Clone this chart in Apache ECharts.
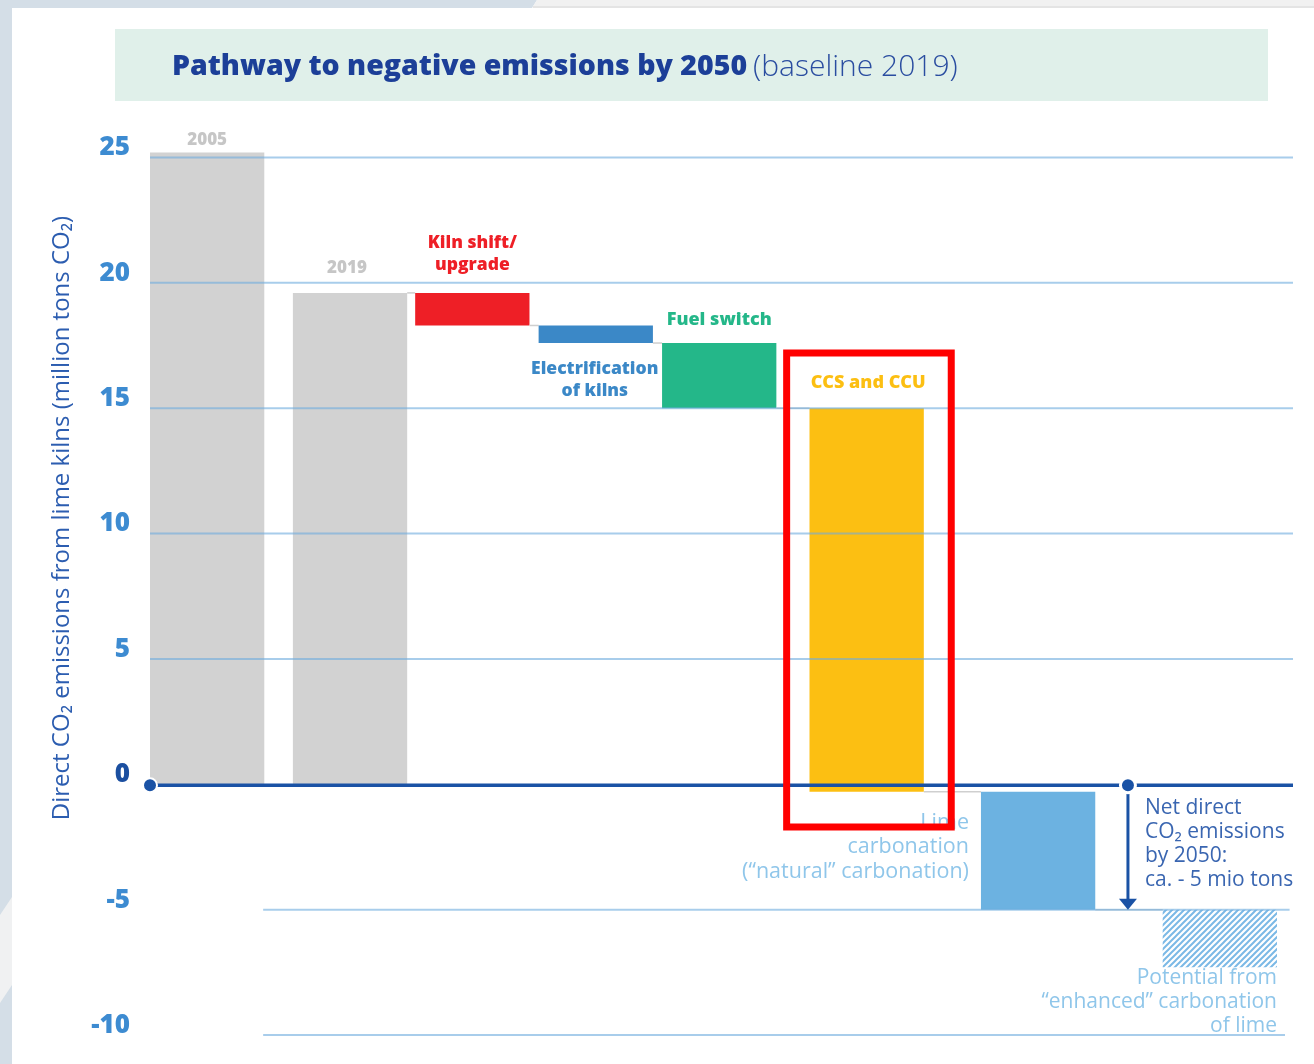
<!DOCTYPE html>
<html><head><meta charset="utf-8">
<script src="https://cdn.jsdelivr.net/npm/echarts@6/dist/echarts.min.js"></script>
<style>html,body{margin:0;padding:0;background:#fff;overflow:hidden}#c{width:1314px;height:1064px;}</style>
</head><body><div id="c"></div>
<script>
// ---------------- DATA ----------------
const categories = ['2005', '2019', 'Kiln shift/\nupgrade', 'Electrification\nof kilns', 'Fuel switch', 'CCS and CCU',
  'Lime\ncarbonation\n(“natural” carbonation)', 'Potential from\n“enhanced” carbonation\nof lime'];
const baselineTotals = [25.2, 19.6];                       // 2005, 2019
const reductionSteps = [-1.3, -0.7, -2.6, -15.3, -4.7, -2.3]; // waterfall steps after 2019
const yTickValues = [-10, -5, 0, 5, 10, 15, 20, 25];
const netEmission2050 = -5;
const titleBold = 'Pathway to negative emissions by 2050';
const titleLight = '(baseline 2019)';
const yAxisTitle = 'Direct CO₂ emissions from lime kilns (million tons CO₂)';
const netText = 'Net direct\nCO₂ emissions\nby 2050:\nca. - 5 mio tons';

// ---------------- LAYOUT / STYLE ----------------
const slotCenters = [0.5, 1.75, 2.82, 3.9, 4.98, 6.27, 7.77, 9.36]; // x-axis units (0..10)
const netArrowX = 8.556;
const highlightBox = {x0: 5.57, x1: 7.01, y0: -1.7, y1: 17.2};
const barColors = ['#d2d2d2', '#d2d2d2', '#ee1f26', '#3b88c7', '#24b789', '#fcbf12', '#6cb2e1', null];
const FONT = "'Open Sans', 'Lato', sans-serif";
const labelLayout = [
  {edge: 'top', dx: 0, dy: -12, align: 'center', color: '#c6c6c6', size: 17, weight: 800, lh: 18},
  {edge: 'top', dx: -3, dy: -25, align: 'center', color: '#c6c6c6', size: 17, weight: 800, lh: 18},
  {edge: 'top', dx: 0, dy: -39, align: 'center', color: '#ee1f26', size: 17.5, weight: 800, lh: 22},
  {edge: 'bottom', dx: -1, dy: 37, align: 'center', color: '#3b88c7', size: 17.5, weight: 800, lh: 22},
  {edge: 'top', dx: 0, dy: -23, align: 'center', color: '#24b789', size: 18, weight: 800, lh: 22},
  {edge: 'top', dx: 1.5, dy: -25, align: 'center', color: '#fcbf12', size: 18, weight: 800, lh: 22},
  {edge: 'leftTop', dx: -12, dy: 55.5, align: 'right', color: '#8fc6ea', size: 21.5, weight: 400, lh: 24.5},
  {edge: 'bottomRight', dx: 0, dy: 35, align: 'right', color: '#8fc6ea', size: 21, weight: 400, lh: 24}
];

// waterfall levels computed from the data
const barFrom = [], barTo = [];
baselineTotals.forEach(v => { barFrom.push(0); barTo.push(v); });
let level = baselineTotals[baselineTotals.length - 1];
reductionSteps.forEach(d => { barFrom.push(level); level = +(level + d).toFixed(2); barTo.push(level); });

// hatch pattern
const hatch = document.createElement('canvas');
hatch.width = 6; hatch.height = 6;
(function () {
  const g = hatch.getContext('2d');
  g.strokeStyle = '#7bb9e6'; g.lineWidth = 2;
  g.beginPath();
  g.moveTo(-1, 7); g.lineTo(7, -1);
  g.moveTo(-1, 1); g.lineTo(1, -1);
  g.moveTo(5, 7); g.lineTo(7, 5);
  g.stroke();
})();

const chart = echarts.init(document.getElementById('c'), null, {renderer: 'canvas'});

function renderBar(params, api) {
  const i = params.dataIndex;
  const xc = api.value(0), a = api.value(1), b = api.value(2);
  const p0 = api.coord([xc - 0.5, Math.max(a, b)]);
  const p1 = api.coord([xc + 0.5, Math.min(a, b)]);
  const children = [];
  children.push({
    type: 'rect',
    shape: {x: p0[0], y: p0[1], width: p1[0] - p0[0], height: p1[1] - p0[1]},
    style: {fill: barColors[i] ? barColors[i] : {image: hatch, repeat: 'repeat'}}
  });
  if (i >= 1 && i < categories.length - 1) {
    const q0 = api.coord([xc + 0.5, b]);
    const q1 = api.coord([slotCenters[i + 1] - 0.5, b]);
    children.push({type: 'line', shape: {x1: q0[0], y1: q0[1], x2: q1[0], y2: q1[1]},
      style: {stroke: '#cfcfcf', lineWidth: 1.5}});
  }
  const L = labelLayout[i];
  let ax, ay;
  if (L.edge === 'top') { ax = (p0[0] + p1[0]) / 2; ay = p0[1]; }
  else if (L.edge === 'bottom') { ax = (p0[0] + p1[0]) / 2; ay = p1[1]; }
  else if (L.edge === 'leftTop') { ax = p0[0]; ay = p0[1]; }
  else { ax = p1[0]; ay = p1[1]; }
  children.push({
    type: 'text', x: ax + L.dx, y: ay + L.dy, z2: 5,
    style: {text: categories[i], fill: L.color, fontSize: L.size, fontWeight: L.weight, fontFamily: FONT,
      align: L.align, verticalAlign: 'middle', lineHeight: L.lh}
  });
  return {type: 'group', children};
}

function renderGrid(params, api) {
  const children = [];
  yTickValues.forEach(v => {
    if (v === 0) return;
    const xs = v > 0 ? [0, 10] : [0.99, v === -5 ? 9.97 : 9.93];
    const a = api.coord([xs[0], v]), b = api.coord([xs[1], v]);
    children.push({type: 'line', shape: {x1: a[0], y1: a[1], x2: b[0], y2: b[1]},
      style: {stroke: 'rgba(110,172,222,0.6)', lineWidth: 2}});
  });
  // zero line
  const z0 = api.coord([0, 0]), z1 = api.coord([10, 0]);
  children.push({type: 'line', shape: {x1: z0[0], y1: z0[1] + 1, x2: z1[0], y2: z1[1] + 1},
    style: {stroke: '#1a52a5', lineWidth: 3.5}});
  // net arrow
  const n0 = api.coord([netArrowX, 0]), n1 = api.coord([netArrowX, netEmission2050]);
  children.push({type: 'line', shape: {x1: n0[0], y1: n0[1], x2: n0[0], y2: n1[1] - 10},
    style: {stroke: '#1a52a5', lineWidth: 3}});
  children.push({type: 'polygon', shape: {points: [[n1[0] - 9, n1[1] - 11], [n1[0] + 9, n1[1] - 11], [n1[0], n1[1]]]},
    style: {fill: '#1a52a5'}});
  children.push({type: 'circle', shape: {cx: z0[0], cy: z0[1] + 1, r: 7}, style: {fill: '#1a52a5', stroke: '#fff', lineWidth: 2}});
  children.push({type: 'circle', shape: {cx: n0[0], cy: n0[1] + 1, r: 7.5}, style: {fill: '#1a52a5', stroke: '#fff', lineWidth: 3}});
  children.push({type: 'text', x: n0[0] + 17, y: n0[1] + 12,
    style: {text: netText, fill: '#3a66b1', fontSize: 21, fontFamily: FONT, align: 'left', verticalAlign: 'top', lineHeight: 24}});
  // highlight box
  const h0 = api.coord([highlightBox.x0, highlightBox.y1]), h1 = api.coord([highlightBox.x1, highlightBox.y0]);
  children.push({type: 'rect', z2: 10, shape: {x: h0[0], y: h0[1], width: h1[0] - h0[0], height: h1[1] - h0[1]},
    style: {fill: 'none', stroke: '#ff0000', lineWidth: 7}});
  return {type: 'group', children};
}

chart.setOption({
  animation: false,
  backgroundColor: '#ffffff',
  grid: {left: 150, right: 21, top: 157.5, bottom: 29, containLabel: false},
  xAxis: {type: 'value', min: 0, max: 10, show: false},
  yAxis: {
    type: 'value', min: -10, max: 25, interval: 5,
    axisLine: {show: false}, axisTick: {show: false}, splitLine: {show: false},
    axisLabel: {
      margin: 20, fontSize: 26, fontWeight: 800, fontFamily: FONT, verticalAlign: 'bottom', lineHeight: 19,
      color: v => (Number(v) === 0 ? '#1b4fa0' : '#3d8bd1'),
      formatter: v => String(yTickValues.find(t => t === v) ?? v)
    }
  },
  graphic: [
    {type: 'rect', z: -10, shape: {x: 0, y: 0, width: 12, height: 1064}, style: {fill: '#d4dee7'}},
    {type: 'polygon', z: -9, shape: {points: [[0, 915], [12, 897], [12, 985], [0, 1003]]}, style: {fill: '#f0f1f2'}},
    {type: 'polygon', z: -10, shape: {points: [[0, 0], [537, 0], [532, 8], [0, 8]]}, style: {fill: '#d4dee7'}},
    {type: 'polygon', z: -10, shape: {points: [[537, 0], [1314, 0], [1314, 8], [532, 8]]}, style: {fill: '#f1f1f1'}},
    {type: 'rect', z: -10, shape: {x: 533, y: 6, width: 781, height: 2}, style: {fill: '#e4e4e4'}},
    {type: 'rect', z: -10, shape: {x: 115, y: 29, width: 1153, height: 72}, style: {fill: '#e0f0ea'}},
    {type: 'text', x: 172, y: 67, style: {
      text: '{b|' + titleBold + '}{l|' + titleLight + '}', verticalAlign: 'middle', align: 'left',
      rich: {
        b: {fontSize: 28.5, fontWeight: 800, fontFamily: FONT, fill: '#1c3f98', color: '#1c3f98'},
        l: {fontSize: 30, fontWeight: 300, fontFamily: FONT, fill: '#2a4da0', color: '#2a4da0', padding: [0, 0, 0, 6]}
      }}},
    {type: 'text', x: 62, y: 518, rotation: Math.PI / 2, style: {
      text: yAxisTitle, fill: '#2c5db0', fontSize: 24, fontFamily: FONT, align: 'center', verticalAlign: 'middle'}}
  ],
  series: [
    {type: 'custom', name: 'bars', z: 2, clip: false, renderItem: renderBar,
      data: categories.map((c, i) => [slotCenters[i], barFrom[i], barTo[i]])},
    {type: 'custom', name: 'grid', z: 3, clip: false, renderItem: renderGrid, data: [[0]]}
  ]
});
</script></body></html>
